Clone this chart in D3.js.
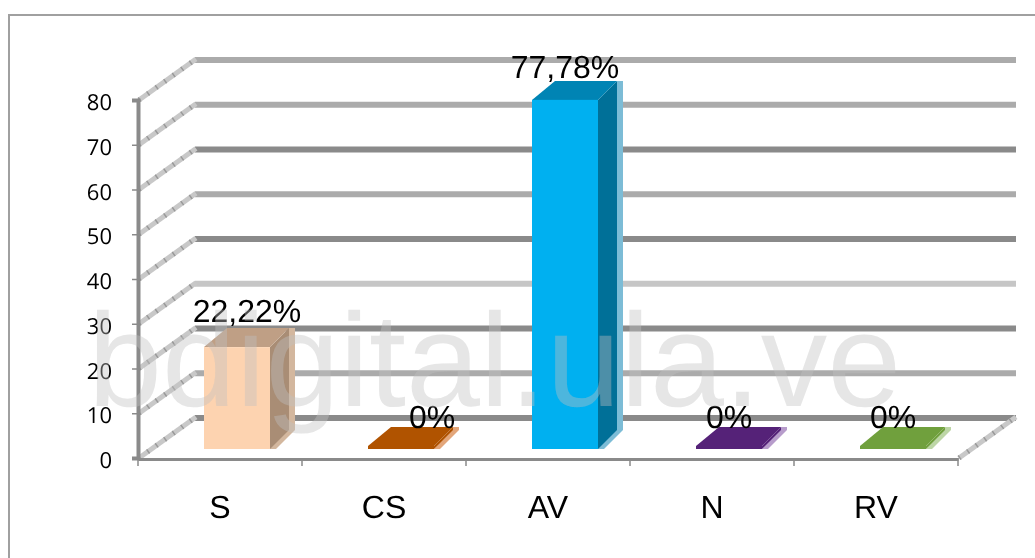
<!DOCTYPE html>
<html><head><meta charset="utf-8">
<script src="https://cdn.jsdelivr.net/npm/d3@7/dist/d3.min.js"></script>
<style>html,body{margin:0;padding:0;background:#fff}svg{display:block}text{text-rendering:geometricPrecision}</style>
</head><body><svg id="c" width="1035" height="558" font-family="'Liberation Sans',Arial,sans-serif"></svg>
<script>
const categories = ["S","CS","AV","N","RV"];
const values = [22.22,0,77.78,0,0];
const valueLabels = ["22,22%","0%","77,78%","0%","0%"];
const frontColors = ["#fdd3b0","#b05303","#00b0f0","#542178","#70a03c"];
const topColors = ["#bf9f85","#b05303","#0084b4","#542178","#70a03c"];
const sideColors = ["#a98d75","#b05303","#006f98","#542178","#70a03c"];
const stripColors = ["#d3b79e","#e3a67a","#7bbcd6","#b79ccb","#bdd6a6"];
const yTicks = [0,10,20,30,40,50,60,70,80];
const gridColors = ["#8a8a8a","#ababab","#8a8a8a","#c6c6c6","#8a8a8a","#ababab","#8a8a8a","#ababab","#ababab"];
const watermark = "bdigital.ula.ve";

const svg = d3.select("#c");
const defs = svg.append("defs");
defs.append("filter").attr("id","soft").attr("x",0).attr("y",0).attr("width","100%").attr("height","100%")
  .append("feGaussianBlur").attr("stdDeviation",0.45);
const root = svg.append("g").attr("filter","url(#soft)");

const x0=138,x1=958,y0=458,y80=100,dx=57,dy=-41;
const y = d3.scaleLinear().domain([0,80]).range([y0,y80]);
const x = d3.scaleBand().domain(categories).range([x0,x1]);
const barY = d3.scaleLinear().domain([0,80]).range([446,90]);

root.append("rect").attr("width",1035).attr("height",558).attr("fill","#fff");
root.append("rect").attr("x",9).attr("y",15).attr("width",1060).attr("height",600)
  .attr("fill","#fff").attr("stroke","#a0a0a0").attr("stroke-width",2);

// back wall lines
root.append("g").selectAll("line").data(yTicks).join("line")
  .attr("x1",x0+dx).attr("x2",x1+dx+1)
  .attr("y1",d=>y(d)+dy+1).attr("y2",d=>y(d)+dy+1)
  .attr("stroke",(d,i)=>gridColors[i]).attr("stroke-width",6);
// side wall lines (hatched)
const side = root.append("g");
function hatch(xa,ya){
  side.append("line").attr("x1",xa).attr("y1",ya).attr("x2",xa+dx).attr("y2",ya+dy)
    .attr("stroke","#c8c8c8").attr("stroke-width",5);
  side.append("line").attr("x1",xa).attr("y1",ya).attr("x2",xa+dx).attr("y2",ya+dy)
    .attr("stroke","#999").attr("stroke-width",5).attr("stroke-dasharray","1.5 9");
}
yTicks.forEach(d=>hatch(x0+1,y(d)));
hatch(x1+1,y0);

// axes
const axY = root.append("g").attr("transform",`translate(${x0},0)`)
  .call(d3.axisLeft(y).tickValues(yTicks).tickSize(6).tickPadding(20));
axY.select(".domain").attr("stroke","#8a8a8a").attr("stroke-width",4);
axY.selectAll("line").attr("stroke","#8a8a8a").attr("stroke-width",1.5);
axY.attr("font-family",null);
axY.selectAll("text").attr("font-size",22).attr("fill","#000").style("font-family","'Open Sans'").attr("dy","0.44em");
const axX = root.append("g").attr("transform",`translate(0,${y0+1})`)
  .call(d3.axisBottom(x).tickSize(0).tickPadding(0));
axX.select(".domain").attr("stroke","#8a8a8a").attr("stroke-width",3);
axX.selectAll("text").attr("font-size",32).attr("fill","#000").style("font-family","'Liberation Sans'").attr("y",59).attr("dy",0);
root.append("g").selectAll("line").data(d3.range(categories.length+1)).join("line")
  .attr("x1",i=>x0+i*x.step()).attr("x2",i=>x0+i*x.step())
  .attr("y1",y0).attr("y2",y0+8).attr("stroke","#8a8a8a").attr("stroke-width",1.5);

// bars
const baseY=449, bw=66, bdx=23, bdy=-19;
const bars = root.append("g").selectAll("g").data(categories).join("g");
const bx = d=>x(d)+x.bandwidth()/2-16;
const top_ = i=>barY(values[i]);
const pts = a=>a.map(p=>p.join(",")).join(" ");
bars.append("polygon").attr("fill",(d,i)=>stripColors[i])
  .attr("points",(d,i)=>{const X=bx(d)+bw,T=top_(i);
    return pts([[X,baseY],[X+6,baseY],[X+bdx+2,baseY+bdy],[X+bdx+2,T+bdy],[X+bdx-4,T+bdy]]);});
bars.append("polygon").attr("fill",(d,i)=>sideColors[i])
  .attr("points",(d,i)=>{const X=bx(d)+bw,T=top_(i),B=baseY;
    return pts([[X,T],[X+bdx-4,T+bdy],[X+bdx-4,B+bdy],[X,B]]);});
bars.append("polygon").attr("fill",(d,i)=>topColors[i])
  .attr("points",(d,i)=>{const X=bx(d),T=top_(i);
    return pts([[X,T],[X+bw,T],[X+bw+bdx-4,T+bdy],[X+bdx,T+bdy]]);});
bars.append("rect").attr("fill",(d,i)=>frontColors[i])
  .attr("x",d=>bx(d)).attr("width",bw)
  .attr("y",(d,i)=>top_(i)).attr("height",(d,i)=>baseY-top_(i));

// value labels
const labelDx=[10,31,0,0,0], labelDy=[-25,-18,-22,-18,-18];
root.append("g").selectAll("text").data(categories).join("text")
  .attr("x",(d,i)=>bx(d)+bw/2+labelDx[i]).attr("y",(d,i)=>top_(i)+labelDy[i])
  .attr("text-anchor","middle").attr("font-size",32).attr("fill","#000")
  .text((d,i)=>valueLabels[i]);

// watermark
root.append("text").attr("x",88).attr("y",406).attr("font-size",133)
  .attr("fill","#c0c0c0").attr("fill-opacity",0.4).text(watermark);
</script></body></html>
